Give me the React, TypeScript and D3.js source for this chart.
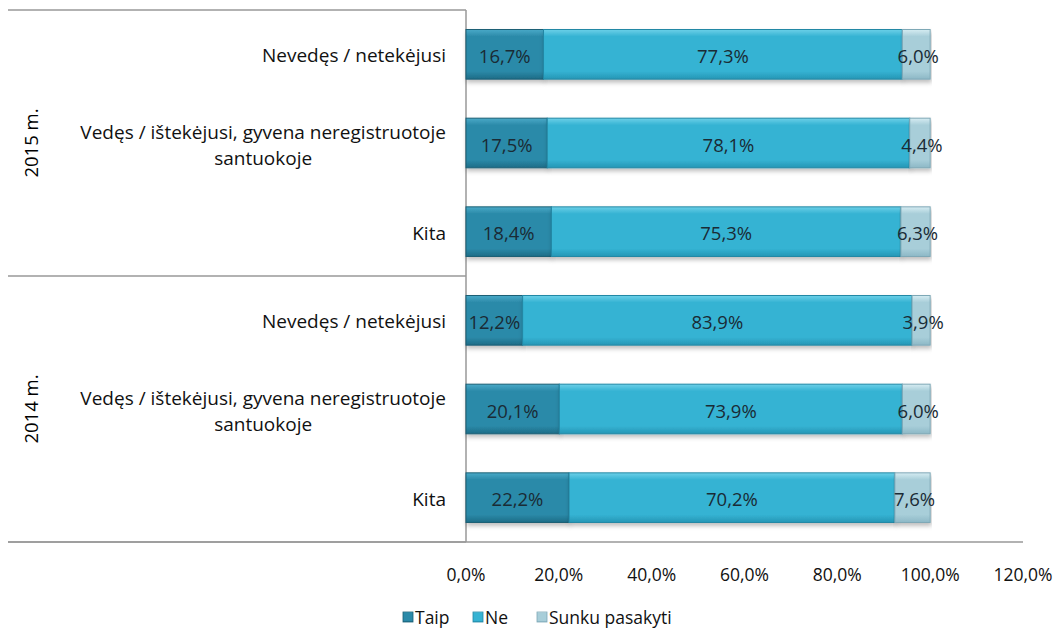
import React from "react";
import * as d3 from "d3";

const years = ["2015 m.", "2014 m."];
const categories = [
  ["Nevedęs / netekėjusi"],
  ["Vedęs / ištekėjusi, gyvena neregistruotoje", "santuokoje"],
  ["Kita"],
];
const seriesNames = ["Taip", "Ne", "Sunku pasakyti"];
// rows: 2015 (3 categories), then 2014 (3 categories)
const taip = [16.7, 17.5, 18.4, 12.2, 20.1, 22.2];
const ne = [77.3, 78.1, 75.3, 83.9, 73.9, 70.2];
const sunku = [6.0, 4.4, 6.3, 3.9, 6.0, 7.6];
const ticks = [0, 20, 40, 60, 80, 100, 120];

const FONT = "'Open Sans', Lato, sans-serif";
const FS = 18.5;
const CFS = 19;
const TFS = 17.5;

const colors = [
  { top: "#4aaac8", mid: "#2b8aa9", bot: "#1d6c86", stroke: "#1b5f75" },
  { top: "#6dd0e8", mid: "#35b3d3", bot: "#2596b5", stroke: "#2488a5" },
  { top: "#d6ecf2", mid: "#a8ced9", bot: "#8db8c6", stroke: "#7ea8b6" },
];

let ctx: CanvasRenderingContext2D | null = null;
function measure(t: string): number {
  if (!ctx) ctx = document.createElement("canvas").getContext("2d");
  if (!ctx) return t.length * 9;
  ctx.font = `${CFS}px 'Open Sans'`;
  return ctx.measureText(t).width;
}

const fmt = (v: number) => v.toFixed(1).replace(".", ",") + "%";

export default function App() {
  const W = 1062, H = 630;
  const x0 = 466, x1 = 1023, yTop = 10, yBot = 542;
  const x = d3.scaleLinear().domain([0, 120]).range([x0, x1]);
  const rows = d3.range(6);
  const y = d3.scaleBand<number>().domain(rows).range([yTop, yBot]).paddingInner(0.44).paddingOuter(0.22);
  const bh = y.bandwidth();
  const series = [taip, ne, sunku];
  const rowData = rows.map((i) => series.map((s) => s[i]));
  const stack = d3.stack<number[]>().keys(["0", "1", "2"]).value((d, k) => d[+k]);
  const stacked = stack(rowData);
  const labelRight = 446;
  const groupH = (yBot - yTop) / 2;

  return (
    <svg width={W} height={H} style={{ position: "absolute", left: 0, top: 0, background: "#fff" }} fontFamily={FONT}>
      <defs>
        {colors.map((c, i) => (
          <linearGradient key={i} id={`g${i}`} x1="0" y1="0" x2="0" y2="1">
            <stop offset="0" stopColor={c.top} />
            <stop offset="0.14" stopColor={c.mid} />
            <stop offset="0.84" stopColor={c.mid} />
            <stop offset="1" stopColor={c.bot} />
          </linearGradient>
        ))}
        <filter id="sh" x="-5%" y="-20%" width="110%" height="160%">
          <feDropShadow dx="1" dy="3" stdDeviation="2" floodColor="#000" floodOpacity="0.25" />
        </filter>
      </defs>
      {[0, 1, 2].map((k) => (
        <line key={k} x1={8} x2={x0} y1={yTop + k * groupH} y2={yTop + k * groupH} stroke="#999" strokeWidth={1.5} />
      ))}
      <line x1={x0} x2={x0} y1={yTop} y2={yBot} stroke="#999" strokeWidth={1.5} />
      <line x1={8} x2={x1} y1={yBot} y2={yBot} stroke="#999" strokeWidth={1.5} />
      {years.map((yr, g) => (
        <text key={yr} transform={`translate(30,${yTop + g * groupH + y.step() * 1.5}) rotate(-90)`} textAnchor="middle" dominantBaseline="central" fontSize={FS} fill="#000">
          {yr}
        </text>
      ))}
      {rows.map((i) => {
        const lines = categories[i % 3];
        const cy = (y(i) as number) + bh / 2;
        const maxW = Math.max(...lines.map(measure));
        const lh = 26;
        return lines.map((ln, j) => (
          <text key={`${i}-${j}`} x={lines.length > 1 ? labelRight - maxW / 2 : labelRight} y={cy + (j - (lines.length - 1) / 2) * lh + (lines.length > 1 ? 2 : 1)} textAnchor={lines.length > 1 ? "middle" : "end"} dominantBaseline="central" fontSize={CFS} fill="#111">
            {ln}
          </text>
        ));
      })}
      {stacked.map((s, si) => (
        <g key={si}>
          {s.map((d, i) => (
            <rect key={i} x={x(d[0])} y={y(i)} width={x(d[1]) - x(d[0])} height={bh} fill={`url(#g${si})`} stroke={colors[si].stroke} strokeWidth={1} filter="url(#sh)" />
          ))}
        </g>
      ))}
      {stacked.map((s, si) => (
        <g key={`l${si}`}>
          {s.map((d, i) => (
            <text key={i} x={(x(d[0]) + x(d[1])) / 2 + (si === 2 ? 2 : 0)} y={(y(i) as number) + bh / 2 + 1} textAnchor="middle" dominantBaseline="central" fontSize={FS} fill="#1a2b35">
              {fmt(series[si][i])}
            </text>
          ))}
        </g>
      ))}
      {ticks.map((t) => (
        <text key={t} x={x(t)} y={574} textAnchor="middle" dominantBaseline="central" fontSize={TFS} fill="#111">
          {fmt(t)}
        </text>
      ))}
      {(() => {
        const items = [
          { x: 403, tx: 415 },
          { x: 473, tx: 485 },
          { x: 537, tx: 549 },
        ];
        return seriesNames.map((n, i) => (
          <g key={n}>
            <rect x={items[i].x} y={612} width={10} height={10} fill={`url(#g${i})`} stroke={colors[i].stroke} strokeWidth={0.8} />
            <text x={items[i].tx} y={617} dominantBaseline="central" fontSize={TFS} fill="#111">
              {n}
            </text>
          </g>
        ));
      })()}
    </svg>
  );
}
